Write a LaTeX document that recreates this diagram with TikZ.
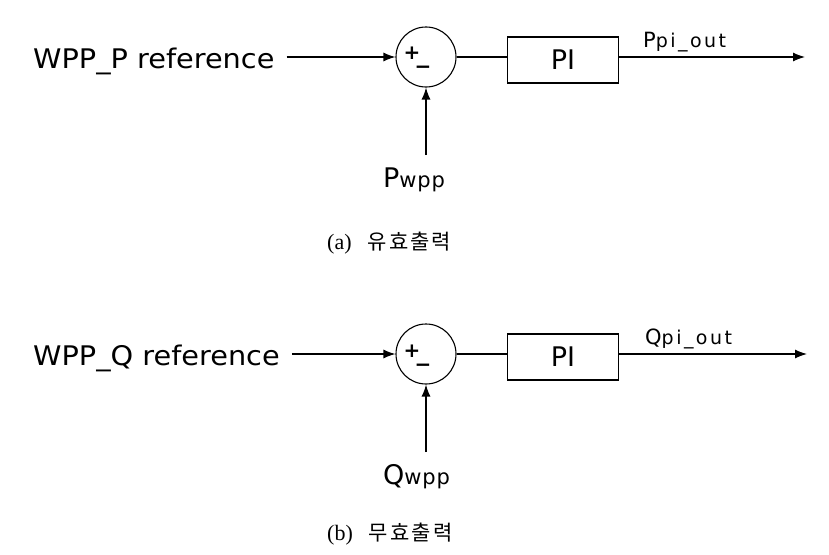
\documentclass[tikz,border=0pt]{standalone}
\usepackage{fontspec}
\newfontfamily\dv{DejaVu Sans}
\newfontfamily\kr{Noto Sans CJK KR}
\newfontfamily\serifcap{Liberation Serif}
\usetikzlibrary{arrows.meta,calc}
\begin{document}
\begin{tikzpicture}[x=1pt,y=-1pt,
  lbl/.style={font=\dv\fontsize{27}{30}\selectfont, inner sep=0pt, anchor=base west},
  sub/.style={font=\dv\fontsize{21}{24}\selectfont, inner sep=0pt, anchor=base west},
  sumnode/.style={circle, draw, minimum size=60pt, inner sep=0pt, line width=1.1pt},
  blk/.style={draw, minimum width=111pt, minimum height=46pt, inner sep=0pt, line width=1.2pt, font=\dv\fontsize{27}{30}\selectfont},
  sign/.style={font=\dv\bfseries\fontsize{20}{22}\selectfont, inner sep=0pt},
  captext/.style={inner sep=0pt, anchor=west},
  arr/.style={-{Latex[length=12pt,width=9pt]}, line width=1.2pt},
  ln/.style={line width=1.2pt}]
\useasboundingbox (0,0) rectangle (829,554);

% ---------- (a) ----------
\node[lbl] (refP) at (33,68) {\scalebox{1.065}[1]{WPP\_P reference}};
\node[sumnode] (sumP) at (426,57) {};
\node[sign] (plusP) at (412,53) {+};
\node[sign] (minusP) at (423,70) {−};
\node[blk] (PIp) at (563,60) {PI};
\coordinate (outP) at (805,57);
\node[sub] (Pout) at (643,47) {P{\fontsize{19}{20}\selectfont\addfontfeature{LetterSpace=13}pi\_out}};
\node[sub] (Pwpp) at (383,187) {\fontsize{27}{30}\selectfont P{\fontsize{21}{22}\selectfont\addfontfeature{LetterSpace=4}wpp}};
\coordinate (inP) at (426,155);
\draw[arr] ($(refP.east|-sumP.west)+(12,0)$) -- (sumP.west);
\draw[ln] (sumP.east) -- (sumP.east -| PIp.west);
\draw[arr] (PIp.east |- sumP.east) -- (outP);
\draw[arr] (inP) -- (sumP.south);
\node[captext] (capA) at (327,243) {{\serifcap\fontsize{22}{24}\selectfont (a)}\hspace{16pt}{\kr\fontsize{21}{24}\selectfont\addfontfeature{LetterSpace=10}유효출력}};

% ---------- (b) ----------
\node[lbl] (refQ) at (33,365) {\scalebox{1.065}[1]{WPP\_Q reference}};
\node[sumnode] (sumQ) at (426,354) {};
\node[sign] (plusQ) at (412,351) {+};
\node[sign] (minusQ) at (423,368) {−};
\node[blk] (PIq) at (563,357) {PI};
\coordinate (outQ) at (807,354);
\node[sub] (Qout) at (645,344) {Q{\fontsize{19}{20}\selectfont\addfontfeature{LetterSpace=13}pi\_out}};
\node[sub] (Qwpp) at (383,484) {\fontsize{27}{30}\selectfont Q{\fontsize{21}{22}\selectfont\addfontfeature{LetterSpace=4}wpp}};
\coordinate (inQ) at (426,452);
\draw[arr] ($(refQ.east|-sumQ.west)+(12,0)$) -- (sumQ.west);
\draw[ln] (sumQ.east) -- (sumQ.east -| PIq.west);
\draw[arr] (PIq.east |- sumQ.east) -- (outQ);
\draw[arr] (inQ) -- (sumQ.south);
\node[captext] (capB) at (327,534) {{\serifcap\fontsize{22}{24}\selectfont (b)}\hspace{16pt}{\kr\fontsize{21}{24}\selectfont\addfontfeature{LetterSpace=10}무효출력}};
\end{tikzpicture}
\end{document}
